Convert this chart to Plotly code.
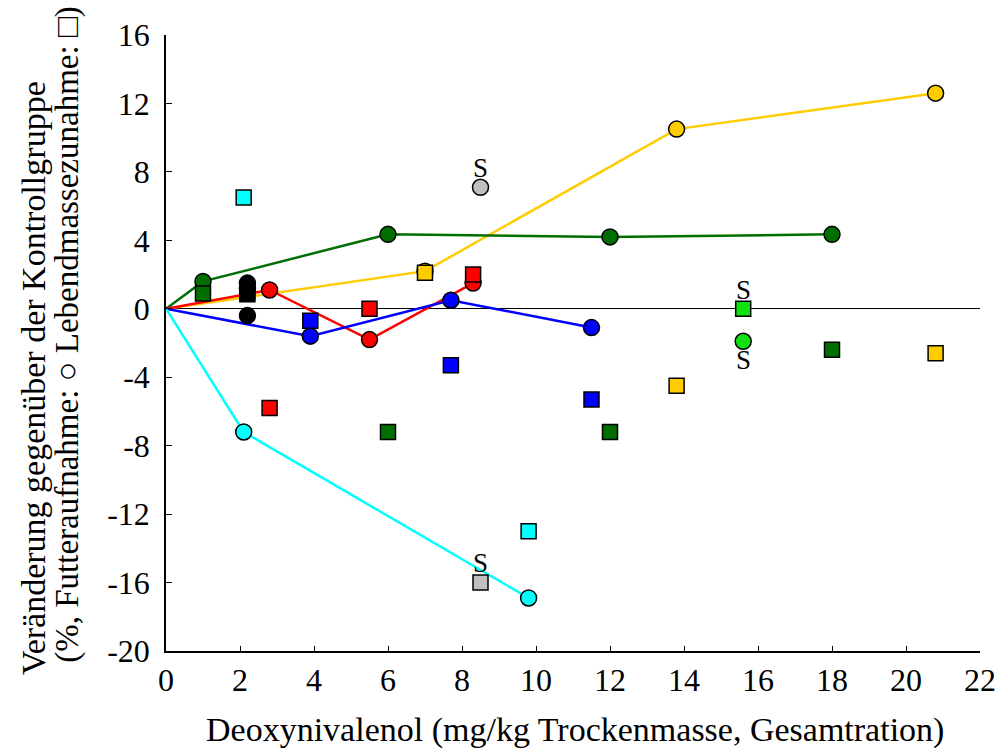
import plotly.graph_objects as go

# ---- data (x = DON mg/kg DM; feed = Futteraufnahme %, gain = Lebendmassezunahme %) ----
x_yellow = [7.0, 13.8, 20.8]
feed_yellow = [2.2, 10.5, 12.6]
gain_yellow = [2.1, -4.5, -2.6]

x_dgreen = [1.0, 6.0, 12.0, 18.0]
feed_dgreen = [1.6, 4.35, 4.2, 4.35]
gain_dgreen = [0.9, -7.2, -7.2, -2.4]

x_red = [2.8, 5.5, 8.3]
feed_red = [1.1, -1.8, 1.5]
gain_red = [-5.8, 0.0, 2.0]

x_blue = [3.9, 7.7, 11.5]
feed_blue = [-1.6, 0.5, -1.1]
gain_blue = [-0.7, -3.3, -5.3]

x_cyan = [2.1, 9.8]
feed_cyan = [-7.2, -16.9]
gain_cyan = [6.5, -13.0]

x_gray = [8.5]
feed_gray = [7.1]
gain_gray = [-16.0]

x_lime = [15.6]
feed_lime = [-1.9]
gain_lime = [0.0]

x_black_feed = [2.2, 2.2, 2.2]
feed_black = [1.5, 1.2, -0.4]
x_black_gain = [2.2, 2.2]
gain_black = [0.85, 1.0]

x_ticks = list(range(0, 23, 2))
y_ticks = list(range(-20, 17, 4))
y_ticktext = ["-20", "-16", "-12", "-8", "-4", "0", "4", "8", "12", "16"]

FONT = "Liberation Serif"
C_YEL = "#FFCC00"
C_DGR = "#006E00"
C_RED = "#FF0000"
C_BLU = "#0000FF"
C_CYA = "#00FFFF"
C_GRY = "#BFBFBF"
C_LIM = "#11E011"
C_BLK = "#000000"

fig = go.Figure()

# connecting lines (feed intake, starting at origin)
for xs, ys, c in [(x_yellow, feed_yellow, C_YEL), (x_dgreen, feed_dgreen, C_DGR),
                  (x_red, feed_red, C_RED), (x_blue, feed_blue, C_BLU),
                  (x_cyan, feed_cyan, C_CYA)]:
    fig.add_trace(go.Scatter(x=[0] + xs, y=[0] + ys, mode="lines",
                             line=dict(color=c, width=2.5), hoverinfo="skip",
                             showlegend=False))

# circles (feed intake)
for xs, ys, c in [(x_yellow, feed_yellow, C_YEL), (x_dgreen, feed_dgreen, C_DGR),
                  (x_red, feed_red, C_RED), (x_blue, feed_blue, C_BLU),
                  (x_cyan, feed_cyan, C_CYA), (x_gray, feed_gray, C_GRY),
                  (x_lime, feed_lime, C_LIM), (x_black_feed, feed_black, C_BLK)]:
    fig.add_trace(go.Scatter(x=xs, y=ys, mode="markers", cliponaxis=False,
                             marker=dict(symbol="circle", size=16, color=c,
                                         line=dict(color="black", width=1.5)),
                             showlegend=False))

# squares (weight gain)
for xs, ys, c in [(x_yellow, gain_yellow, C_YEL), (x_dgreen, gain_dgreen, C_DGR),
                  (x_red, gain_red, C_RED), (x_blue, gain_blue, C_BLU),
                  (x_cyan, gain_cyan, C_CYA), (x_gray, gain_gray, C_GRY),
                  (x_lime, gain_lime, C_LIM), (x_black_gain, gain_black, C_BLK)]:
    fig.add_trace(go.Scatter(x=xs, y=ys, mode="markers", cliponaxis=False,
                             marker=dict(symbol="square", size=15, color=c,
                                         line=dict(color="black", width=1.5)),
                             showlegend=False))

# "S" labels
s_labels = [(x_gray[0], feed_gray[0], 19), (x_gray[0], gain_gray[0], 20),
            (x_lime[0], gain_lime[0], 19), (x_lime[0], feed_lime[0], -19)]
for sx, sy, sh in s_labels:
    fig.add_annotation(x=sx, y=sy, text="S", showarrow=False, yshift=sh,
                       font=dict(family=FONT, size=27, color="black"))

# axis titles as annotations
fig.add_annotation(xref="paper", yref="paper", x=0.502, y=-0.128,
                   text="Deoxynivalenol (mg/kg Trockenmasse, Gesamtration)",
                   showarrow=False, xanchor="center", yanchor="middle",
                   font=dict(family=FONT, size=34, color="black"))
fig.add_annotation(xref="paper", yref="paper", x=-0.1634, y=0.443,
                   text="Veränderung gegenüber der Kontrollgruppe",
                   textangle=-90, showarrow=False, xanchor="center", yanchor="middle",
                   font=dict(family=FONT, size=34, color="black"))
fig.add_annotation(xref="paper", yref="paper", x=-0.1204, y=0.515,
                   text="(%, Futteraufnahme: <b>○</b> Lebendmassezunahme: <b>□</b>)",
                   textangle=-90, showarrow=False, xanchor="center", yanchor="middle",
                   font=dict(family=FONT, size=33, color="black"))

fig.update_layout(
    width=998, height=751,
    margin=dict(l=166, r=18, t=35, b=100, autoexpand=False),
    plot_bgcolor="white", paper_bgcolor="white",
    font=dict(family=FONT, size=32, color="black"),
    xaxis=dict(range=[0, 22], tickvals=x_ticks, ticks="inside", ticklen=5,
               tickcolor="black", showline=True, linecolor="black", linewidth=1.5,
               showgrid=False, zeroline=False, automargin=False,
               tickfont=dict(family=FONT, size=32)),
    yaxis=dict(range=[-20, 16], tickvals=y_ticks, ticktext=[t + " " for t in y_ticktext],
               ticks="inside", ticklen=6,
               tickcolor="black", showline=True, linecolor="black", linewidth=1.5,
               showgrid=False, zeroline=True, zerolinecolor="black", zerolinewidth=1.2,
               automargin=False,
               tickfont=dict(family=FONT, size=32)),
)

fig.write_html("out.html", config={"displayModeBar": False},
               post_script="document.body.style.margin='0';document.body.style.padding='0';")
